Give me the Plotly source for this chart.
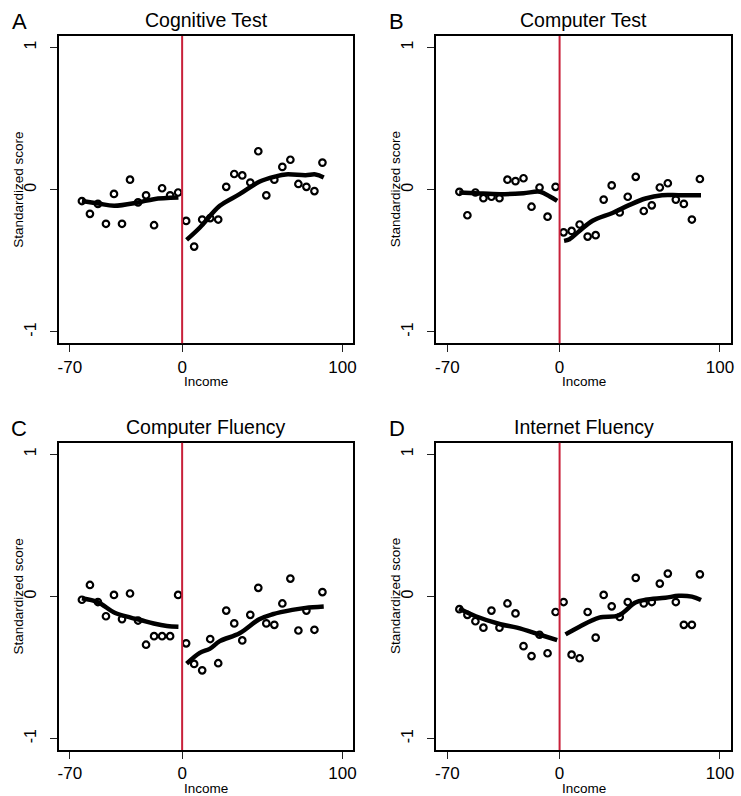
import plotly.graph_objects as go

W, H = 741, 796

# ---------------- data ----------------
x_left = [-62.5, -57.5, -52.5, -47.5, -42.5, -37.5, -32.5, -27.5, -22.5, -17.5, -12.5, -7.5, -2.5]
x_right = [2.5, 7.5, 12.5, 17.5, 22.5, 27.5, 32.5, 37.5, 42.5, 47.5, 52.5, 57.5,
           62.5, 67.5, 72.5, 77.5, 82.5, 87.5]

panel_titles = ["Cognitive Test", "Computer Test", "Computer Fluency", "Internet Fluency"]
panel_letters = ["A", "B", "C", "D"]

# binned means
cog_left = [-0.08, -0.17, -0.10, -0.24, -0.03, -0.24, 0.07, -0.09, -0.04, -0.25, 0.01, -0.04, -0.02]
cog_right = [-0.22, -0.40, -0.21, -0.20, -0.21, 0.02, 0.11, 0.10, 0.05, 0.27, -0.04, 0.07,
             0.16, 0.21, 0.04, 0.02, -0.01, 0.19]
comp_left = [-0.015, -0.18, -0.02, -0.06, -0.05, -0.06, 0.07, 0.06, 0.08, -0.12, 0.015, -0.19, 0.02]
comp_right = [-0.30, -0.29, -0.245, -0.33, -0.32, -0.07, 0.03, -0.16, -0.05, 0.09, -0.15, -0.11,
              0.015, 0.045, -0.07, -0.10, -0.21, 0.075]
cflu_left = [-0.024, 0.08, -0.04, -0.14, 0.01, -0.16, 0.02, -0.17, -0.34, -0.28, -0.28, -0.28, 0.01]
cflu_right = [-0.33, -0.475, -0.52, -0.30, -0.47, -0.10, -0.19, -0.31, -0.13, 0.06, -0.19, -0.20,
              -0.05, 0.125, -0.24, -0.10, -0.235, 0.03]
iflu_left = [-0.09, -0.13, -0.175, -0.22, -0.10, -0.22, -0.05, -0.12, -0.35, -0.42, -0.27, -0.40, -0.11]
iflu_right = [-0.04, -0.41, -0.435, -0.11, -0.29, 0.01, -0.07, -0.145, -0.04, 0.13, -0.05, -0.04,
              0.09, 0.16, -0.04, -0.20, -0.20, 0.155]

# smoothed fits
cog_fit_lx = [-62.5, -52.4, -42.4, -27.5, -17.7, -2.3]
cog_fit_ly = [-0.08, -0.097, -0.113, -0.09, -0.067, -0.056]
cog_fit_rx = [2.8, 11.1, 23.5, 35.8, 48.1, 58.4, 64.6, 77.0, 83.2, 88.3]
cog_fit_ry = [-0.353, -0.266, -0.114, -0.032, 0.055, 0.093, 0.107, 0.102, 0.107, 0.086]

comp_fit_lx = [-62.6, -52.3, -36.9, -22.5, -12.2, -6.1, -1.5]
comp_fit_ly = [-0.020, -0.025, -0.032, -0.025, -0.015, -0.048, -0.079]
comp_fit_rx = [2.8, 6.2, 12.4, 20.6, 33.0, 43.3, 53.6, 63.9, 74.2, 88.2]
comp_fit_ry = [-0.360, -0.348, -0.290, -0.219, -0.164, -0.109, -0.062, -0.039, -0.039, -0.039]

cflu_fit_lx = [-62.5, -52.4, -42.4, -32.1, -26.0, -17.7, -9.5, -2.3]
cflu_fit_ly = [-0.014, -0.042, -0.113, -0.149, -0.166, -0.191, -0.208, -0.213]
cflu_fit_rx = [2.8, 11.0, 17.2, 23.5, 35.8, 48.1, 56.4, 68.7, 77.0, 88.3]
cflu_fit_ry = [-0.473, -0.397, -0.369, -0.315, -0.260, -0.161, -0.126, -0.095, -0.081, -0.071]

iflu_fit_lx = [-62.6, -52.3, -36.9, -26.6, -12.2, -1.5]
iflu_fit_ly = [-0.085, -0.140, -0.196, -0.220, -0.270, -0.308]
iflu_fit_rx = [3.7, 12.4, 24.7, 37.0, 47.3, 53.6, 66.0, 74.2, 82.5, 88.2]
iflu_fit_ry = [-0.267, -0.213, -0.149, -0.133, -0.043, -0.024, -0.010, 0.004, -0.002, -0.026]

x_ticks = [-70, 0, 100]
y_ticks = [-1, 0, 1]
x_label = "Income"
y_label = "Standardized score"

panels = [
    (cog_left, cog_right, cog_fit_lx, cog_fit_ly, cog_fit_rx, cog_fit_ry),
    (comp_left, comp_right, comp_fit_lx, comp_fit_ly, comp_fit_rx, comp_fit_ry),
    (cflu_left, cflu_right, cflu_fit_lx, cflu_fit_ly, cflu_fit_rx, cflu_fit_ry),
    (iflu_left, iflu_right, iflu_fit_lx, iflu_fit_ly, iflu_fit_rx, iflu_fit_ry),
]

# ---------------- layout geometry (pixels) ----------------
box_x = [(58.3, 354.3), (437.8, 733.8), (58.3, 354.3), (437.8, 733.8)]
box_y = [(36.0, 343.3), (36.0, 343.3), (442.7, 750.0), (442.7, 750.0)]

FONT = "Liberation Sans, Arial, Helvetica, sans-serif"
RED = "#C8203A"

fig = go.Figure()
layout = dict(
    width=W, height=H, margin=dict(l=0, r=0, t=0, b=0),
    paper_bgcolor="white", plot_bgcolor="white", showlegend=False,
    font=dict(family=FONT, color="black"),
)
annotations = []
shapes = []

for i, (yl, yr, flx, fly, frx, fry) in enumerate(panels):
    n = i + 1
    xa = "x" if n == 1 else f"x{n}"
    ya = "y" if n == 1 else f"y{n}"
    xkey = "xaxis" if n == 1 else f"xaxis{n}"
    ykey = "yaxis" if n == 1 else f"yaxis{n}"
    x0p, x1p = box_x[i]
    y0p, y1p = box_y[i]
    layout[xkey] = dict(
        domain=[x0p / W, x1p / W], anchor=ya, range=[-76.8, 106.8],
        tickvals=x_ticks, ticktext=[str(v) for v in x_ticks],
        ticks="outside", ticklen=7, tickwidth=1.3, tickcolor="#222",
        showline=True, mirror=True, linecolor="black", linewidth=2,
        showgrid=False, zeroline=False, tickfont=dict(size=17, family=FONT),
        ticklabelstandoff=0,
    )
    layout[ykey] = dict(
        domain=[1 - y1p / H, 1 - y0p / H], anchor=xa, range=[-1.08, 1.08],
        tickvals=y_ticks, ticktext=[str(v) for v in y_ticks], tickangle=-90,
        ticks="outside", ticklen=7, tickwidth=1.3, tickcolor="#222",
        showline=True, mirror=True, linecolor="black", linewidth=2,
        showgrid=False, zeroline=False, tickfont=dict(size=16, family=FONT),
        ticklabelstandoff=8,
    )
    # red cutoff line
    shapes.append(dict(type="line", xref=xa, yref=f"{ya} domain", x0=0, x1=0, y0=0, y1=1,
                       line=dict(color=RED, width=2)))
    # fits
    for fx, fy in ((flx, fly), (frx, fry)):
        fig.add_trace(go.Scatter(x=fx, y=fy, mode="lines", xaxis=xa, yaxis=ya,
                                 line=dict(color="black", width=4.5, shape="spline", smoothing=1.0),
                                 hoverinfo="skip"))
    # binned points
    fig.add_trace(go.Scatter(x=x_left + x_right, y=yl + yr, mode="markers", xaxis=xa, yaxis=ya,
                             marker=dict(symbol="circle-open", size=6.5, color="black",
                                         line=dict(width=2.2, color="black"))))
    cx = (x0p + x1p) / 2
    cy = (y0p + y1p) / 2
    # titles
    annotations.append(dict(text=panel_titles[i], xref="paper", yref="paper",
                            x=cx / W, y=1 - (y0p - 16) / H, xanchor="center", yanchor="middle",
                            showarrow=False, font=dict(size=19.5, family=FONT)))
    annotations.append(dict(text=panel_letters[i], xref="paper", yref="paper",
                            x=(x0p - 40) / W, y=1 - (y0p - 14) / H, xanchor="center", yanchor="middle",
                            showarrow=False, font=dict(size=22, family=FONT)))
    annotations.append(dict(text=x_label, xref="paper", yref="paper",
                            x=cx / W, y=1 - (y1p + 38.5) / H, xanchor="center", yanchor="middle",
                            showarrow=False, font=dict(size=13.5, family=FONT)))
    annotations.append(dict(text=y_label, xref="paper", yref="paper",
                            x=(x0p - 41) / W, y=1 - cy / H, xanchor="center", yanchor="middle",
                            textangle=-90, showarrow=False, font=dict(size=13.5, family=FONT)))

layout["annotations"] = annotations
layout["shapes"] = shapes
fig.update_layout(**layout)
fig.write_html("out.html", config={"displayModeBar": False},
               post_script="document.body.style.margin='0px';document.body.style.overflow='hidden';")
